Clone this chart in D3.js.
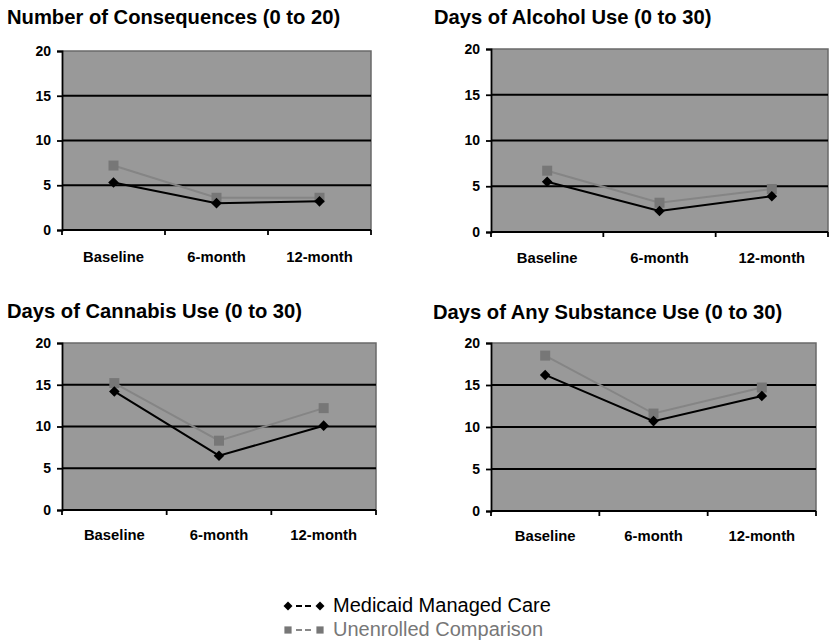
<!DOCTYPE html>
<html>
<head>
<meta charset="utf-8">
<script src="https://cdn.jsdelivr.net/npm/d3@7"></script>
<style>
  html, body { margin: 0; padding: 0; background: #ffffff; }
  svg { display: block; font-family: Arial, "Liberation Sans", Helvetica, sans-serif; }
</style>
</head>
<body>
<svg id="chart" width="834" height="641"></svg>
<script>
// Follow-up time points shared by every panel
const timepoints = ["Baseline", "6-month", "12-month"];
const yTicks = [0, 5, 10, 15, 20];

// Panel titles
const panelTitles = [
  "Number of Consequences (0 to 20)",
  "Days of Alcohol Use (0 to 30)",
  "Days of Cannabis Use (0 to 30)",
  "Days of Any Substance Use (0 to 30)"
];

// Medicaid Managed Care means per panel
const medicaidConsequences = [5.3, 3.0, 3.2];
const medicaidAlcohol      = [5.5, 2.3, 3.9];
const medicaidCannabis     = [14.2, 6.5, 10.1];
const medicaidAnySubstance = [16.2, 10.7, 13.7];

// Unenrolled Comparison means per panel
const unenrolledConsequences = [7.2, 3.6, 3.6];
const unenrolledAlcohol      = [6.7, 3.2, 4.7];
const unenrolledCannabis     = [15.2, 8.3, 12.2];
const unenrolledAnySubstance = [18.5, 11.6, 14.7];

const seriesNames = ["Medicaid Managed Care", "Unenrolled Comparison"];

const medicaidData = [medicaidConsequences, medicaidAlcohol, medicaidCannabis, medicaidAnySubstance];
const unenrolledData = [unenrolledConsequences, unenrolledAlcohol, unenrolledCannabis, unenrolledAnySubstance];

// Layout of each panel: title position and plot-area box
const panels = [
  { tx: 7,   ty: 24,  left: 62,  right: 371, top: 51,  bottom: 230, labelY: 262 },
  { tx: 434, ty: 24,  left: 491, right: 828, top: 49,  bottom: 232, labelY: 263 },
  { tx: 7,   ty: 318, left: 62,  right: 376, top: 343, bottom: 510, labelY: 540 },
  { tx: 433, ty: 319, left: 491, right: 816, top: 343, bottom: 511, labelY: 541 }
];

const svg = d3.select("#chart");

const darkColor = "#000000";
const greyLine = "#858585";
const greyMarker = "#777777";

// Diamond drawn as a square rotated by 45 degrees
const diamondPath = d3.symbol().type(d3.symbolSquare).size(56)();

panels.forEach((p, i) => {
  const g = svg.append("g");

  // Title
  g.append("text")
    .attr("x", p.tx).attr("y", p.ty)
    .attr("font-size", 20.2).attr("font-weight", "bold")
    .attr("fill", "#000")
    .text(panelTitles[i]);

  const x = d3.scaleBand().domain(timepoints).range([p.left, p.right]);
  const y = d3.scaleLinear().domain([0, 20]).range([p.bottom, p.top]);

  // Plot background
  g.append("rect")
    .attr("x", p.left).attr("y", p.top)
    .attr("width", p.right - p.left).attr("height", p.bottom - p.top)
    .attr("fill", "#999999");

  // Top and right frame
  g.append("path")
    .attr("d", `M${p.left},${p.top}H${p.right}V${p.bottom}`)
    .attr("fill", "none").attr("stroke", "#6a6a6a").attr("stroke-width", 1.5);

  // Horizontal gridlines
  g.selectAll(".grid").data(yTicks.filter(t => t > 0 && t < 20)).enter()
    .append("line")
    .attr("x1", p.left).attr("x2", p.right)
    .attr("y1", d => y(d)).attr("y2", d => y(d))
    .attr("stroke", "#000").attr("stroke-width", 1.8);

  // Y axis
  const yAxis = g.append("g")
    .attr("transform", `translate(${p.left},0)`)
    .call(d3.axisLeft(y).tickValues(yTicks).tickSize(5).tickPadding(6));
  yAxis.select(".domain").attr("stroke", "#000").attr("stroke-width", 1.8);
  yAxis.selectAll(".tick line").attr("stroke", "#000").attr("stroke-width", 1.8);
  yAxis.selectAll(".tick text")
    .attr("font-size", 14).attr("font-weight", "bold").attr("fill", "#000")
    .attr("font-family", "Arial, 'Liberation Sans', sans-serif");

  // X axis: ticks at category boundaries, labels below
  const bounds = timepoints.map(t => x(t)).concat([p.right]);
  g.append("line")
    .attr("x1", p.left).attr("x2", p.right)
    .attr("y1", p.bottom).attr("y2", p.bottom)
    .attr("stroke", "#000").attr("stroke-width", 1.8);
  g.selectAll(".xt").data(bounds).enter().append("line")
    .attr("x1", d => d).attr("x2", d => d)
    .attr("y1", p.bottom).attr("y2", p.bottom + 5)
    .attr("stroke", "#000").attr("stroke-width", 1.8);
  g.selectAll(".xl").data(timepoints).enter().append("text")
    .attr("x", d => x(d) + x.bandwidth() / 2)
    .attr("y", p.labelY)
    .attr("text-anchor", "middle")
    .attr("font-size", 14.8).attr("font-weight", "bold").attr("fill", "#000")
    .text(d => d);

  const line = d3.line()
    .x((d, j) => x(timepoints[j]) + x.bandwidth() / 2)
    .y(d => y(d));

  // Unenrolled Comparison series
  g.append("path").datum(unenrolledData[i])
    .attr("d", line).attr("fill", "none")
    .attr("stroke", greyLine).attr("stroke-width", 2);
  g.selectAll(".sq").data(unenrolledData[i]).enter().append("path")
    .attr("transform", (d, j) => `translate(${x(timepoints[j]) + x.bandwidth() / 2},${y(d)})`)
    .attr("d", d3.symbol().type(d3.symbolSquare).size(100))
    .attr("fill", greyMarker);

  // Medicaid Managed Care series
  g.append("path").datum(medicaidData[i])
    .attr("d", line).attr("fill", "none")
    .attr("stroke", darkColor).attr("stroke-width", 2);
  g.selectAll(".dm").data(medicaidData[i]).enter().append("path")
    .attr("transform", (d, j) => `translate(${x(timepoints[j]) + x.bandwidth() / 2},${y(d)}) rotate(45)`)
    .attr("d", diamondPath)
    .attr("fill", darkColor);
});

// Legend
const legend = svg.append("g");
const legendRows = [
  { name: seriesNames[0], y: 606, textY: 612, color: "#000", path: d3.symbol().type(d3.symbolSquare).size(40)(), rot: 45, dash: "#000" },
  { name: seriesNames[1], y: 630, textY: 636, color: "#777", path: d3.symbol().type(d3.symbolSquare).size(52)(), rot: 0, dash: "#888" }
];
legendRows.forEach(r => {
  [288, 320].forEach(cx => {
    legend.append("path")
      .attr("transform", `translate(${cx},${r.y}) rotate(${r.rot})`)
      .attr("d", r.path)
      .attr("fill", r.color);
  });
  legend.append("line")
    .attr("x1", 296).attr("x2", 313)
    .attr("y1", r.y).attr("y2", r.y)
    .attr("stroke", r.dash).attr("stroke-width", 2)
    .attr("stroke-dasharray", "6,3");
  legend.append("text")
    .attr("x", 333).attr("y", r.textY)
    .attr("font-size", 20).attr("fill", r.color)
    .text(r.name);
});
</script>
</body>
</html>
